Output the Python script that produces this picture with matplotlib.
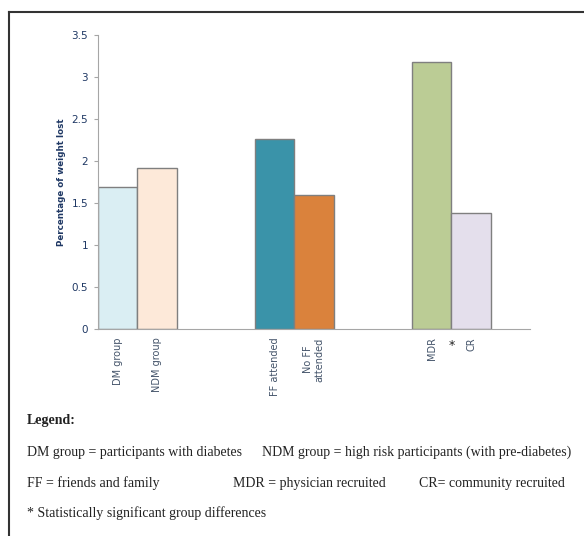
import matplotlib
matplotlib.use("Agg")
import matplotlib.pyplot as plt
from matplotlib.lines import Line2D

# data
labels = ["DM group", "NDM group", "FF attended", "No FF\nattended", "MDR", "CR"]
values = [1.69, 1.92, 2.26, 1.60, 3.18, 1.38]
colors = ["#DAEEF3", "#FDE9D9", "#3A93A9", "#DA823C", "#BBCC95", "#E4DFEC"]
slots = [0, 1, 4, 5, 8, 9]  # empty slots separate the three comparisons
yticks = [0, 0.5, 1, 1.5, 2, 2.5, 3, 3.5]
ytick_labels = ["0", "0.5", "1", "1.5", "2", "2.5", "3", "3.5"]

navy = "#1F3864"
axis_grey = "#A6A6A6"

fig = plt.figure(figsize=(5.84, 5.36), dpi=100)
W, H = 584, 536
ax = fig.add_axes([98 / W, 1 - 329 / H, (530 - 98) / W, (329 - 35) / H])

ax.bar(slots, values, width=1.0, color=colors, edgecolor="#7F7F7F",
       linewidth=1.0, align="edge")
ax.set_xlim(0, 11)
ax.set_ylim(0, 3.5)

ax.set_yticks(yticks)
ax.set_yticklabels(ytick_labels, color=navy, fontsize=7.5)
ax.set_xticks([s + 0.5 for s in slots])
ax.set_xticklabels(labels, rotation=90, color="#44546A", fontsize=7,
                   va="top", ha="center")
ax.tick_params(axis="x", length=0, pad=6)
ax.tick_params(axis="y", length=3, color=axis_grey, pad=4)

for side in ["top", "right"]:
    ax.spines[side].set_visible(False)
ax.spines["left"].set_color(axis_grey)
ax.spines["bottom"].set_color(axis_grey)

ax.set_ylabel("Percentage of weight lost", color=navy, fontsize=6.3,
              fontweight="bold", labelpad=4)

# significance marker between MDR and CR
ax.text(9.0, -0.12, "*", ha="center", va="top", fontsize=9, color="#222222",
        transform=ax.transData)

# outer frame (top and left edges visible)
fig.add_artist(Line2D([9 / W, 1], [1 - 12 / H, 1 - 12 / H], color="#333333",
                      lw=1.5, transform=fig.transFigure))
fig.add_artist(Line2D([9 / W, 9 / W], [0, 1 - 12 / H], color="#333333",
                      lw=1.5, transform=fig.transFigure))

serif = "Liberation Serif"
tcol = "#222222"
fs = 10
fig.text(27 / W, 1 - 424 / H, "Legend:", family=serif, fontweight="bold",
         fontsize=fs, color=tcol, va="baseline")
fig.text(27 / W, 1 - 456 / H, "DM group = participants with diabetes",
         family=serif, fontsize=fs, color=tcol, va="baseline")
fig.text(262 / W, 1 - 456 / H,
         "NDM group = high risk participants (with pre-diabetes)",
         family=serif, fontsize=fs, color=tcol, va="baseline")
fig.text(27 / W, 1 - 487 / H, "FF = friends and family",
         family=serif, fontsize=fs, color=tcol, va="baseline")
fig.text(233 / W, 1 - 487 / H, "MDR = physician recruited",
         family=serif, fontsize=fs, color=tcol, va="baseline")
fig.text(419 / W, 1 - 487 / H, "CR= community recruited",
         family=serif, fontsize=fs, color=tcol, va="baseline")
fig.text(27 / W, 1 - 517 / H, "* Statistically significant group differences",
         family=serif, fontsize=fs, color=tcol, va="baseline")

fig.savefig("out.png", dpi=100)
